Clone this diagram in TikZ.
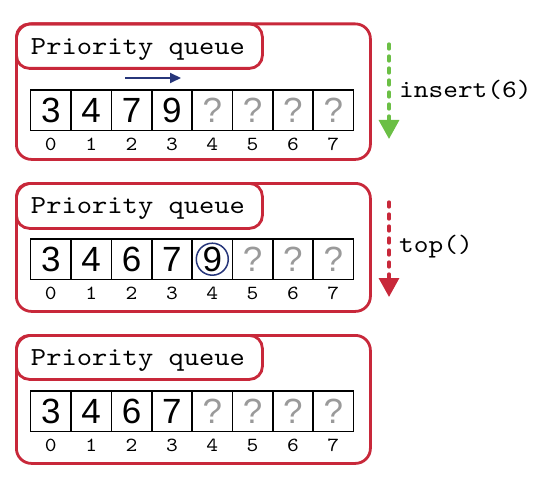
\documentclass[tikz,border=0pt]{standalone}
\usepackage{fontspec}
\setmainfont{Liberation Sans}
\newfontfamily\pqmono[FakeStretch=1.12,Numbers=Lining]{lmmono10-regular.otf}
\usetikzlibrary{arrows.meta}
\definecolor{pqred}{HTML}{C8283A}
\definecolor{pqgreen}{HTML}{6BBF45}
\definecolor{pqblue}{HTML}{27367A}
\definecolor{pqgray}{HTML}{9A9A9A}
\begin{document}
\begin{tikzpicture}[x=1pt,y=-1pt,
  frame/.style={draw=pqred, line width=2.8pt, rounded corners=15pt, minimum width=354pt, inner sep=0pt, anchor=north west},
  tagbox/.style={draw=pqred, line width=2.8pt, rounded corners=13pt, minimum width=246pt, inner sep=0pt, anchor=north west},
  tagtext/.style={anchor=base, font=\pqmono\fontsize{26}{26}\selectfont, inner sep=0pt},
  cell/.style={draw=black, line width=1.5pt, minimum width=40.35pt, minimum height=40.5pt, inner sep=0pt, font=\fontsize{35}{35}\selectfont},
  emptycell/.style={cell, text=pqgray},
  idx/.style={font=\pqmono\fontsize{20}{20}\selectfont, inner sep=0pt},
  oplabel/.style={font=\pqmono\fontsize{25}{25}\selectfont, inner sep=0pt, anchor=west},
  opline/.style={line width=3.3pt, dash pattern=on 5pt off 7pt, line cap=round, -{Triangle[length=19pt,width=20pt]}},
]
\useasboundingbox (0,0) rectangle (546,492);

% frames
\node[frame, minimum height=135.5pt] (f1) at (15,22.5) {};
\node[frame, minimum height=128pt] (f2) at (15,182) {};
\node[frame, minimum height=128pt] (f3) at (15,334) {};

% tags
\node[tagbox, minimum height=44.5pt] (tag1) at (15,22.5) {};
\node[tagbox, minimum height=45pt] (tag2) at (15,182) {};
\node[tagbox, minimum height=44pt] (tag3) at (15,334) {};
\node[tagtext] (tt1) at (138,55) {Priority queue};
\node[tagtext] (tt2) at (138,213) {Priority queue};
\node[tagtext] (tt3) at (138,365) {Priority queue};

% frame 1 cells
\foreach \v [count=\i from 0] in {3,4,7,9} {
  \node[cell] (a\i) at ({30.7+40.35*(\i+0.5)},110.25) {\v};
}
\foreach \i in {4,...,7} {
  \node[emptycell] (a\i) at ({30.7+40.35*(\i+0.5)},110.25) {?};
}
\foreach \i in {0,...,7} {
  \node[idx] (ai\i) at ({30.7+40.35*(\i+0.5)},144) {\i};
}

% frame 2 cells
\foreach \v [count=\i from 0] in {3,4,6,7,9} {
  \node[cell] (b\i) at ({30.7+40.35*(\i+0.5)},259.2) {\v};
}
\foreach \i in {5,...,7} {
  \node[emptycell] (b\i) at ({30.7+40.35*(\i+0.5)},259.2) {?};
}
\foreach \i in {0,...,7} {
  \node[idx] (bi\i) at ({30.7+40.35*(\i+0.5)},293) {\i};
}
\node[draw=pqblue, circle, line width=1.5pt, minimum size=32pt, inner sep=0pt] (ring) at (b4) {};

% frame 3 cells
\foreach \v [count=\i from 0] in {3,4,6,7} {
  \node[cell] (c\i) at ({30.7+40.35*(\i+0.5)},411) {\v};
}
\foreach \i in {4,...,7} {
  \node[emptycell] (c\i) at ({30.7+40.35*(\i+0.5)},411) {?};
}
\foreach \i in {0,...,7} {
  \node[idx] (ci\i) at ({30.7+40.35*(\i+0.5)},445) {\i};
}

% blue shift arrow
\coordinate (s0) at (125,78);
\coordinate (s1) at (181,78);
\draw[pqblue, line width=2pt, -{Triangle[length=11pt,width=10pt]}] (s0) -- (s1);

% operations
\coordinate (g0) at (389,44);
\coordinate (g1) at (389,139);
\draw[pqgreen, opline] (g0) -- (g1);
\node[oplabel] (ins) at (399,90) {insert(6)};

\coordinate (r0) at (389,202);
\coordinate (r1) at (389,297);
\draw[pqred, opline] (r0) -- (r1);
\node[oplabel] (top) at (399,247) {top()};
\end{tikzpicture}
\end{document}
